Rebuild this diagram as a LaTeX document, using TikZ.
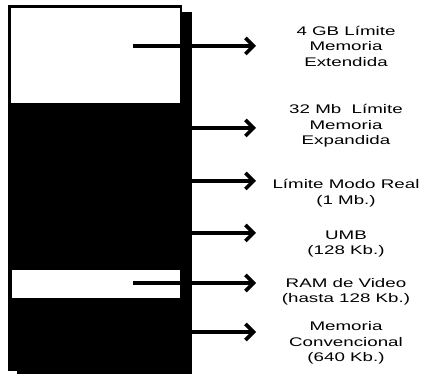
\documentclass[tikz,border=0pt]{standalone}
\usepackage{fontspec}
\newfontfamily\labelfont[FakeStretch=1.5]{Liberation Sans}
\usetikzlibrary{arrows.meta, positioning}

\begin{document}
\begin{tikzpicture}[x=1pt, y=-1pt,
    region/.style={fill=white, draw=none, inner sep=0pt, anchor=north west},
    memlabel/.style={align=center, font=\labelfont\fontsize{12.5}{15.5}\selectfont, inner sep=0pt},
    memarrow/.style={-{Straight Barb[length=8pt,width=16pt]}, line width=3.6pt}]
  \useasboundingbox (0,0) rectangle (421,374);
  % memory block with its shadow
  \node[fill=black, inner sep=0pt, anchor=north west, minimum width=175pt, minimum height=362pt] (shadow) at (17,12) {};
  \node[fill=black, inner sep=0pt, anchor=north west, minimum width=174pt, minimum height=366pt] (block) at (8,5) {};
  \node[region, minimum width=169pt, minimum height=95pt] (ext) at (11,8) {};
  \node[region, minimum width=168pt, minimum height=28pt] (ram) at (12,270) {};

  % labels
  \node[memlabel] (lext) at (346,46) {4 GB Límite\\Memoria\\Extendida};
  \node[memlabel] (lexp) at (346,126) {32 Mb\ \ Límite\\Memoria\\Expandida};
  \node[memlabel] (lreal) at (346,193) {Límite Modo Real\\(1 Mb.)};
  \node[memlabel] (lumb) at (346,244) {UMB\\(128 Kb.)};
  \node[memlabel] (lram) at (346,292) {RAM de Video\\(hasta 128 Kb.)};
  \node[memlabel] (lconv) at (346,343) {Memoria\\Convencional\\(640 Kb.)};

  % arrow ends
  \coordinate (s1) at (133,46);
  \coordinate (s5) at (133,283);
  \coordinate (t1) at (256,46);
  \coordinate (t2) at (256,128);
  \coordinate (t3) at (256,181);
  \coordinate (t4) at (256,233);
  \coordinate (t5) at (256,283);
  \coordinate (t6) at (256,332);

  \draw[memarrow] (s1) -- (t1);
  \draw[memarrow] (shadow.east |- t2) -- (t2);
  \draw[memarrow] (shadow.east |- t3) -- (t3);
  \draw[memarrow] (shadow.east |- t4) -- (t4);
  \draw[memarrow] (s5) -- (t5);
  \draw[memarrow] (shadow.east |- t6) -- (t6);
\end{tikzpicture}
\end{document}
